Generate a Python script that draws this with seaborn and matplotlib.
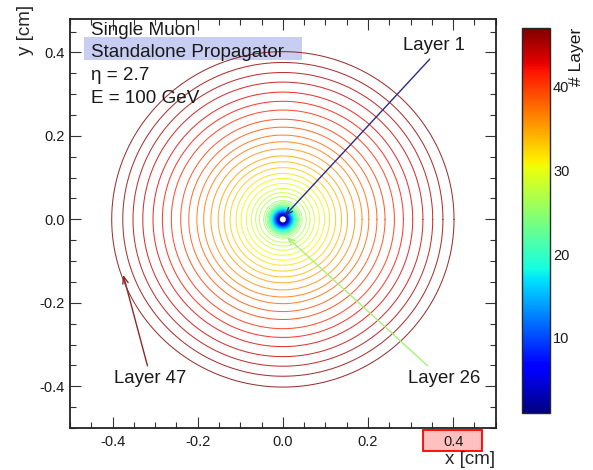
import numpy as np
import pandas as pd
import matplotlib
matplotlib.use("Agg")
import matplotlib.pyplot as plt
from matplotlib.patches import Rectangle
from matplotlib.ticker import MultipleLocator
import seaborn as sns

# Layer numbers and the transverse radius (cm) of the propagated muon in each layer
layers = list(range(1, 48))
radii_cm = [
    0.0083, 0.0095, 0.0105, 0.0114, 0.0124, 0.0133, 0.0143, 0.0152, 0.0162, 0.0171,
    0.0181, 0.0190, 0.0202, 0.0214, 0.0226, 0.0238, 0.0250, 0.0262, 0.0276, 0.0290,
    0.0305, 0.0321, 0.0345, 0.0369, 0.0405,
    0.045, 0.055, 0.064, 0.074, 0.086, 0.098, 0.110, 0.124, 0.138, 0.152,
    0.169, 0.186, 0.202, 0.221, 0.240, 0.262, 0.283, 0.305, 0.329, 0.352,
    0.376, 0.402,
]
info_lines = ["Single Muon", "Standalone Propagator", "η = 2.7", "E = 100 GeV"]
x_ticks = [-0.4, -0.2, 0.0, 0.2, 0.4]
y_ticks = [-0.4, -0.2, 0.0, 0.2, 0.4]
cbar_ticks = [10, 20, 30, 40]

sns.set_style("ticks")
plt.rcParams["font.family"] = ["Liberation Sans", "DejaVu Sans"]

# Build one closed ring per layer
phi = np.linspace(0, 2 * np.pi, 721)
frames = []
for lay, r in zip(layers, radii_cm):
    frames.append(pd.DataFrame({"layer": lay, "x": r * np.cos(phi), "y": r * np.sin(phi)}))
df = pd.concat(frames, ignore_index=True)

fig = plt.figure(figsize=(5.93, 4.70), dpi=100)
ax = fig.add_axes([0.118, 0.0894, 0.718, 0.870])

jet = plt.get_cmap("jet")
norm = plt.Normalize(1, 47)
sns.lineplot(data=df, x="x", y="y", hue="layer", palette=jet, hue_norm=norm,
             sort=False, estimator=None, legend=False, lw=0.75, alpha=0.8, ax=ax, zorder=3)

ax.set_xlim(-0.5, 0.5)
ax.set_ylim(-0.5, 0.48)
ax.set_xticks(x_ticks)
ax.set_yticks(y_ticks)
ax.set_xticklabels([f"{v:.1f}" for v in x_ticks])
ax.set_yticklabels([f"{v:.1f}" for v in y_ticks])
ax.xaxis.set_minor_locator(MultipleLocator(0.05))
ax.yaxis.set_minor_locator(MultipleLocator(0.05))
ax.tick_params(which="both", direction="in", top=True, right=True, width=0.8, colors="#333333",
               labelcolor="#1a1a1a", labelsize=10.5)
ax.tick_params(which="major", length=8)
ax.tick_params(which="minor", length=4.5)
ax.tick_params(axis="x", pad=5)
ax.tick_params(axis="y", pad=4)
for s in ax.spines.values():
    s.set_linewidth(1.3)
    s.set_color("#222222")

ax.set_xlabel("x [cm]", fontsize=13.5, ha="right", va="top")
ax.xaxis.set_label_coords(0.998, -0.057)
ax.set_ylabel("y [cm]", fontsize=13.5, ha="right")
ax.yaxis.set_label_coords(-0.084, 1.034)

# Info block
tx = -0.450
baselines = [0.441, 0.390, 0.333, 0.278]
ax.add_patch(Rectangle((-0.466, 0.3816), 0.510, 0.0564, facecolor="#c8cdf2",
                       edgecolor="none", zorder=2))
for line, yb in zip(info_lines, baselines):
    ax.text(tx, yb, line, fontsize=13.6, va="baseline", ha="left", color="#1a1a1a", zorder=5)

# Layer annotations
ann = [
    ("Layer 1", (0.355, 0.417), (0.345, 0.384), (0.004, 0.008), "#2b2b8a"),
    ("Layer 26", (0.379, -0.382), (0.340, -0.351), (0.009, -0.042), "#a6f07a"),
    ("Layer 47", (-0.311, -0.382), (-0.318, -0.351), (-0.375, -0.133), "#8a2a2a"),
]
for label, tpos, start, tip, col in ann:
    ax.text(tpos[0], tpos[1], label, fontsize=13.4, ha="center", va="center",
            color="#1a1a1a", zorder=6)
    ax.annotate("", xy=tip, xytext=start,
                arrowprops=dict(arrowstyle="->,head_length=0.5,head_width=0.2",
                                color=col, lw=1.0, shrinkA=0, shrinkB=0), zorder=6)

# Highlight on the 0.4 tick label
fig.patches.append(Rectangle((0.7128, 0.041), 0.0995, 0.044, transform=fig.transFigure,
                             facecolor="#ffc0c0", edgecolor="red", lw=1.3, zorder=-1))

# Colour scale
cax = fig.add_axes([0.881, 0.121, 0.047, 0.819])
sm = plt.cm.ScalarMappable(norm=norm, cmap=jet)
cb = fig.colorbar(sm, cax=cax)
cb.set_ticks(cbar_ticks)
cb.ax.yaxis.set_minor_locator(MultipleLocator(2))
cb.ax.tick_params(which="both", direction="in", colors="#333333", labelcolor="#1a1a1a",
                  labelsize=10.5, pad=2)
cb.ax.tick_params(which="major", length=8)
cb.ax.tick_params(which="minor", length=4)
cb.outline.set_linewidth(1.0)
fig.text(577 / 593, 1 - 28 / 470, "# Layer", rotation=90, ha="center", va="top",
         fontsize=12.6, color="#1a1a1a")

fig.savefig("out.png", dpi=100)
